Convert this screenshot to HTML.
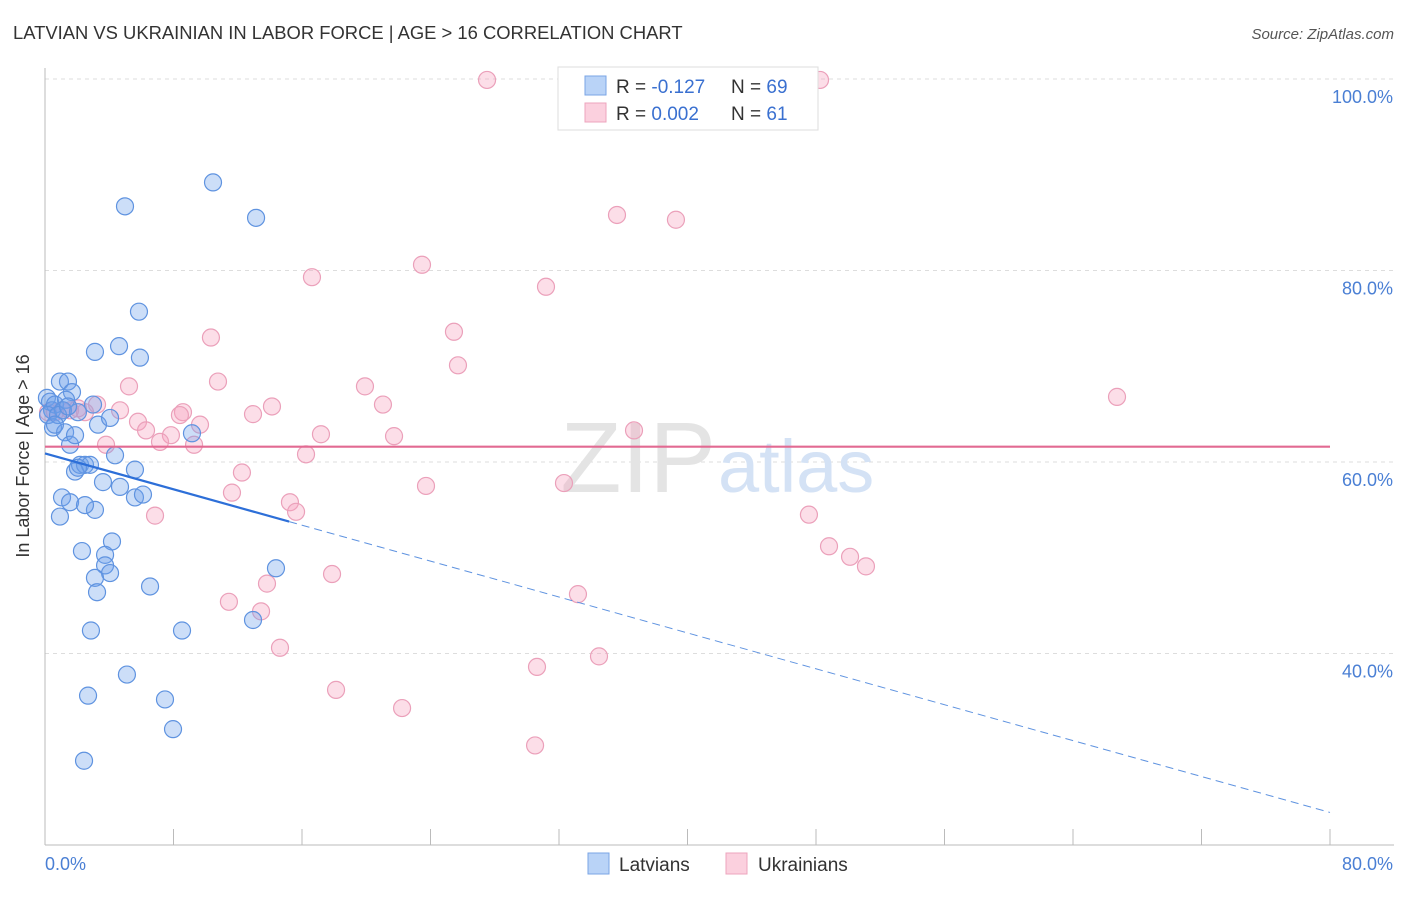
<!DOCTYPE html>
<html><head><meta charset="utf-8"><style>
body{margin:0;background:#fff;font-family:"Liberation Sans",sans-serif}
svg text{font-family:"Liberation Sans",sans-serif}
</style></head><body>
<svg width="1406" height="892">
<text x="13" y="39" font-size="18.4" fill="#333">LATVIAN VS UKRAINIAN IN LABOR FORCE | AGE &gt; 16 CORRELATION CHART</text>
<text x="1394" y="39" font-size="15" fill="#555" font-style="italic" text-anchor="end">Source: ZipAtlas.com</text>
<g id="grid"></g>
<line x1="45" y1="68" x2="45" y2="845" stroke="#bbb"/>
<line x1="45" y1="845" x2="1394" y2="845" stroke="#bbb"/>
<text x="716" y="492" font-size="100" fill="#e4e4e4" text-anchor="end" font-family="Liberation Serif">ZIP</text>
<text x="718" y="492" font-size="74" fill="#d4e2f5">atlas</text>
<g id="pts"></g>
<g id="trend"></g>
<text x="29" y="456" font-size="18" fill="#333" text-anchor="middle" transform="rotate(-90 29 456)">In Labor Force | Age &gt; 16</text>
<text x="45" y="870" font-size="18" fill="#4a7fd4">0.0%</text>
<text x="1393" y="870" font-size="18" fill="#4a7fd4" text-anchor="end">80.0%</text>
<g>
<rect x="558" y="67" width="260" height="63" fill="#fff" stroke="#ddd"/>
<rect x="585" y="76" width="21" height="19" fill="#b9d3f7" stroke="#7aa5e6"/>
<rect x="585" y="103" width="21" height="19" fill="#fbd0de" stroke="#eea4bd"/>
<text x="616" y="93" font-size="19" fill="#333">R = <tspan fill="#3a70d0">-0.127</tspan></text>
<text x="731" y="93" font-size="19" fill="#333">N = <tspan fill="#3a70d0">69</tspan></text>
<text x="616" y="120" font-size="19" fill="#333">R = <tspan fill="#3a70d0">0.002</tspan></text>
<text x="731" y="120" font-size="19" fill="#333">N = <tspan fill="#3a70d0"> 61</tspan></text>
</g>
<g>
<rect x="588" y="853" width="21" height="21" fill="#b9d3f7" stroke="#7aa5e6"/>
<text x="619" y="871" font-size="19" fill="#333">Latvians</text>
<rect x="726" y="853" width="21" height="21" fill="#fbd0de" stroke="#eea4bd"/>
<text x="758" y="871" font-size="19" fill="#333">Ukrainians</text>
</g>
</svg>
<script>
const yTicks=[100,80,60,40];
const yTickLabels=["100.0%","80.0%","60.0%","40.0%"];
const xTicks=[0,8,16,24,32,40,48,56,64,72,80];
const latX=[0.12,0.31,0.44,0.62,0.19,0.5,0.93,1.43,1.68,1.31,1.12,0.81,1.25,1.56,1.87,0.62,2.05,2.99,3.3,4.05,1.87,2.18,2.49,2.8,2.05,4.36,3.61,4.67,5.6,5.6,6.1,1.06,1.56,0.93,3.11,2.49,4.17,2.3,3.74,3.74,4.05,3.11,3.24,6.54,2.86,8.53,2.68,5.1,7.47,7.97,2.43,3.11,4.61,5.91,5.85,4.98,10.46,13.14,9.15,14.38,12.95,1.43];
const latY=[66.7,66.3,65.4,66.0,64.9,63.6,68.4,68.4,67.3,66.5,65.4,64.9,63.1,61.8,62.8,63.9,65.2,66.0,63.9,64.6,59.0,59.7,59.7,59.7,59.4,60.7,57.9,57.4,59.2,56.3,56.6,56.3,55.8,54.3,55.0,55.5,51.7,50.7,50.3,49.2,48.4,47.9,46.4,47.0,42.4,42.4,35.6,37.8,35.2,32.1,28.8,71.5,72.1,70.9,75.7,86.7,89.2,85.5,63.0,48.9,43.5,65.8];
const ukrX=[27.52,48.25,35.61,39.28,16.62,23.47,31.19,25.46,25.71,10.33,10.77,5.23,19.92,21.04,66.74,14.13,12.95,8.59,8.4,4.67,3.24,2.05,1.06,0.62,5.79,6.29,9.65,7.84,7.16,9.28,3.8,17.18,21.73,36.67,16.25,12.26,32.31,23.72,11.64,15.25,15.63,6.85,47.56,48.81,50.12,51.11,17.87,13.82,33.18,11.45,13.45,14.63,34.49,30.63,18.12,22.23,30.51,1.56,2.49,0.19];
const ukrY=[99.9,99.9,85.8,85.3,79.3,80.6,78.3,73.6,70.1,73.0,68.4,67.9,67.9,66.0,66.8,65.8,65.0,65.2,64.9,65.4,66.0,65.6,65.4,65.2,64.2,63.3,63.9,62.8,62.1,61.8,61.8,62.9,62.7,63.3,60.8,58.9,57.8,57.5,56.8,55.8,54.8,54.4,54.5,51.2,50.1,49.1,48.3,47.3,46.2,45.4,44.4,40.6,39.7,38.6,36.2,34.3,30.4,65.4,65.2,65.2];
const latTrend=[60.9,23.4];
const ukrTrend=[61.6,61.6];
const latSolidEnd=15.2;
const NS="http://www.w3.org/2000/svg";
const sx=v=>45+v*1285/80;
const sy=v=>79+(100-v)*191.5/20;
function mk(tag,attrs,parent){const e=document.createElementNS(NS,tag);for(const k in attrs)e.setAttribute(k,attrs[k]);parent.appendChild(e);return e;}
const grid=document.getElementById('grid');
yTicks.forEach((t,i)=>{
 const l=mk('line',{x1:45,x2:1394,y1:sy(t),y2:sy(t),stroke:'#ddd','stroke-dasharray':'4 4'},grid);
 
 
 const tx=mk('text',{x:1393,y:sy(t)+24,'font-size':18,fill:'#4a7fd4','text-anchor':'end'},grid);
 tx.textContent=yTickLabels[i];
 
 
});
xTicks.forEach(t=>{
 const l=mk('line',{x1:sx(t),x2:sx(t),y1:829,y2:845,stroke:'#bbb'},grid);
 
 
});
const pts=document.getElementById('pts');
ukrX.forEach((x,i)=>{
 const c=mk('circle',{cx:sx(x),cy:sy(ukrY[i]),r:8.5,fill:'rgba(245,160,190,0.35)',stroke:'#eba0ba','stroke-width':1.2},pts);
 
 
});
latX.forEach((x,i)=>{
 const c=mk('circle',{cx:sx(x),cy:sy(latY[i]),r:8.5,fill:'rgba(110,160,235,0.35)',stroke:'#5f93e0','stroke-width':1.2},pts);
 
 
});
const tr=document.getElementById('trend');
const ly=x=>latTrend[0]+(latTrend[1]-latTrend[0])*x/80;
let a=mk('line',{x1:sx(0),y1:sy(ly(0)),x2:sx(latSolidEnd),y2:sy(ly(latSolidEnd)),stroke:'#2d6fd8','stroke-width':2.2},tr);


let b=mk('line',{x1:sx(latSolidEnd),y1:sy(ly(latSolidEnd)),x2:sx(80),y2:sy(ly(80)),stroke:'#5f93e0','stroke-width':1,'stroke-dasharray':'8 5'},tr);


let c=mk('line',{x1:sx(0),y1:sy(ukrTrend[0]),x2:sx(80),y2:sy(ukrTrend[1]),stroke:'#e26a92','stroke-width':2.2},tr);


</script>
</body></html>
